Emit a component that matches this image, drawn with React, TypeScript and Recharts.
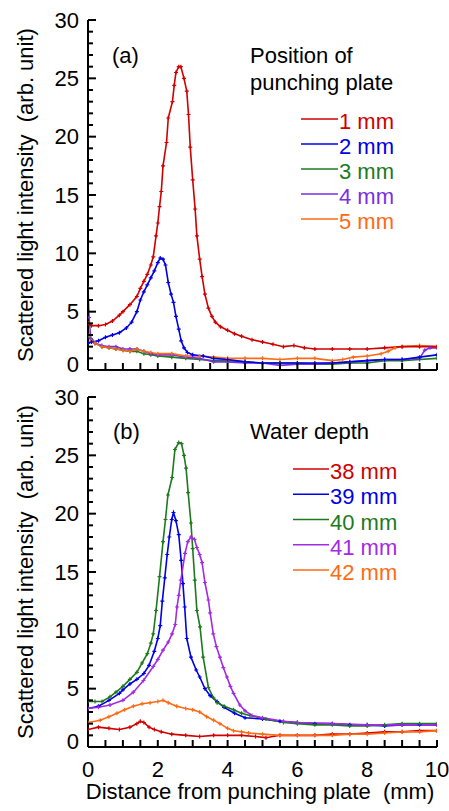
import React from "react";
import { LineChart, Line, XAxis, YAxis } from "recharts";

type P = { x: number; y: number };
const pts = (a: number[][]): P[] => a.map(([x, y]) => ({ x, y }));

// Panel (a): position of punching plate
const a1mm = pts([[0,4.0],[0.1,3.8],[0.3,3.8],[0.5,3.9],[0.7,4.2],[0.9,4.7],[1.0,5.0],[1.2,5.6],[1.4,6.3],[1.5,7.0],[1.6,7.6],[1.7,8.2],[1.8,9.0],[1.87,9.7],[1.95,11.5],[2.0,12.6],[2.05,14.0],[2.1,15.3],[2.15,17.5],[2.25,19.5],[2.3,21.6],[2.42,23.0],[2.47,24.4],[2.52,25.5],[2.6,26.0],[2.66,26.0],[2.75,25.0],[2.83,23.9],[2.88,21.9],[2.93,19.1],[3.0,16.3],[3.07,13.8],[3.12,11.5],[3.2,9.5],[3.27,8.0],[3.35,6.5],[3.45,5.3],[3.55,4.6],[3.65,4.1],[3.8,3.7],[4.0,3.4],[4.2,3.1],[4.4,2.9],[4.7,2.6],[5.0,2.4],[5.3,2.2],[5.6,2.0],[5.9,2.1],[6.2,1.9],[6.5,1.8],[7.0,1.8],[7.5,1.8],[8.0,1.8],[8.5,1.9],[9.0,2.0],[9.5,2.0],[10,2.0]]);
const a2mm = pts([[0,2.3],[0.1,2.4],[0.3,2.5],[0.5,2.8],[0.7,3.0],[0.9,3.2],[1.1,3.6],[1.25,4.1],[1.4,5.0],[1.5,6.0],[1.6,6.7],[1.7,7.3],[1.8,7.9],[1.9,8.5],[2.0,9.2],[2.07,9.6],[2.15,9.5],[2.22,9.0],[2.3,7.5],[2.38,6.5],[2.45,5.8],[2.52,4.6],[2.6,3.5],[2.67,2.5],[2.75,1.9],[2.85,1.5],[3.0,1.3],[3.3,1.2],[3.6,1.0],[4.0,0.9],[4.5,0.7],[5.0,0.6],[5.5,0.6],[6.0,0.6],[6.5,0.6],[7.0,0.6],[7.5,0.7],[8.0,0.8],[8.5,0.9],[9.0,0.9],[9.5,1.1],[10,1.3]]);
const a3mm = pts([[0,2.9],[0.1,2.6],[0.2,2.3],[0.4,2.0],[0.6,1.9],[0.8,1.8],[1.0,1.7],[1.2,1.6],[1.4,1.6],[1.6,1.4],[1.8,1.3],[2.0,1.2],[2.4,1.1],[2.8,1.0],[3.2,0.9],[3.6,0.8],[4.0,0.8],[4.5,0.7],[5.0,0.6],[5.5,0.6],[6.0,0.6],[6.5,0.5],[7.0,0.5],[7.5,0.6],[8.0,0.6],[8.5,0.8],[9.0,0.8],[9.5,0.9],[10,1.0]]);
const a4mm = pts([[0,7.0],[0.03,4.5],[0.08,2.7],[0.2,2.3],[0.4,2.1],[0.6,2.0],[0.8,2.0],[1.0,1.8],[1.2,1.8],[1.4,1.8],[1.6,1.6],[1.8,1.4],[2.0,1.3],[2.4,1.3],[2.8,1.1],[3.2,1.0],[3.6,0.7],[4.0,0.7],[4.5,0.6],[5.0,0.6],[5.5,0.4],[6.0,0.5],[6.5,0.5],[7.0,0.6],[7.5,0.7],[8.0,0.8],[8.5,0.9],[9.0,0.9],[9.5,1.0],[9.65,1.7],[9.8,1.9],[10,1.9]]);
const a5mm = pts([[0,4.0],[0.04,3.0],[0.1,2.5],[0.2,2.3],[0.4,2.0],[0.6,1.9],[0.8,1.8],[1.0,1.7],[1.2,1.6],[1.4,1.8],[1.6,1.6],[1.8,1.5],[2.0,1.4],[2.4,1.4],[2.8,1.2],[3.2,1.2],[3.6,1.1],[4.0,1.0],[4.5,1.0],[5.0,1.0],[5.5,0.9],[6.0,1.0],[6.5,1.0],[7.0,0.8],[7.3,0.9],[7.6,1.1],[8.0,1.2],[8.4,1.4],[8.6,1.6],[8.8,1.9],[9.0,2.0],[9.5,2.1],[10,2.0]]);

// Panel (b): water depth
const b38mm = pts([[0,1.5],[0.3,1.7],[0.6,1.6],[0.9,1.5],[1.2,1.7],[1.4,2.0],[1.5,2.2],[1.6,2.1],[1.75,1.7],[1.9,1.5],[2.1,1.3],[2.4,1.1],[2.8,1.0],[3.2,0.9],[3.6,1.0],[4.0,1.0],[4.4,1.0],[4.8,0.9],[5.1,0.8],[5.5,1.0],[6.0,1.0],[6.5,1.0],[7.0,1.1],[7.5,1.1],[8.0,1.2],[8.5,1.3],[9.0,1.3],[9.5,1.4],[10,1.4]]);
const b39mm = pts([[0,3.3],[0.3,3.5],[0.6,4.0],[0.9,4.6],[1.0,4.9],[1.2,5.4],[1.4,5.8],[1.6,6.3],[1.75,7.0],[1.9,8.2],[2.0,9.3],[2.07,10.4],[2.13,12.5],[2.2,14.5],[2.27,16.5],[2.33,18.0],[2.4,19.5],[2.45,20.1],[2.52,19.4],[2.6,18.2],[2.67,16.0],[2.72,14.0],[2.77,12.0],[2.83,9.3],[2.95,7.7],[3.1,6.6],[3.2,6.0],[3.35,5.0],[3.5,4.4],[3.7,3.9],[3.9,3.4],[4.2,2.9],[4.5,2.5],[5.0,2.4],[5.5,2.2],[6.0,2.1],[6.5,2.0],[7.0,2.0],[7.5,1.9],[8.0,1.9],[8.5,1.8],[9.0,1.9],[9.5,1.9],[10,1.9]]);
const b40mm = pts([[0,3.9],[0.2,3.9],[0.4,3.9],[0.63,4.3],[0.8,4.7],[1.0,5.2],[1.2,5.8],[1.4,6.4],[1.55,7.2],[1.7,8.0],[1.8,8.9],[1.87,9.7],[1.95,11.7],[2.05,14.6],[2.15,17.6],[2.22,19.5],[2.29,21.6],[2.41,23.1],[2.49,25.5],[2.6,26.1],[2.68,26.0],[2.75,25.0],[2.81,23.9],[2.87,21.8],[2.95,19.2],[3.0,17.0],[3.06,14.3],[3.12,11.7],[3.21,10.3],[3.3,7.7],[3.45,5.1],[3.6,4.2],[3.7,3.8],[3.9,3.5],[4.17,3.2],[4.4,2.9],[4.64,2.7],[5.1,2.4],[5.6,2.1],[6.0,2.0],[6.5,1.9],[7.0,1.9],[7.5,1.8],[8.0,1.8],[8.5,1.9],[9.0,2.0],[9.5,2.0],[10,2.0]]);
const b41mm = pts([[0,3.3],[0.3,3.4],[0.63,3.6],[1.0,4.0],[1.3,4.7],[1.59,5.7],[1.87,6.9],[2.0,7.5],[2.15,8.3],[2.3,9.0],[2.41,9.7],[2.5,10.5],[2.55,12.0],[2.6,13.0],[2.66,14.3],[2.78,16.6],[2.86,17.6],[2.95,18.0],[3.05,17.8],[3.12,17.1],[3.2,16.5],[3.27,15.8],[3.35,14.1],[3.45,12.6],[3.5,11.5],[3.59,9.7],[3.68,8.6],[3.78,7.7],[3.88,6.8],[3.98,6.0],[4.08,5.2],[4.17,4.6],[4.35,3.6],[4.5,3.1],[4.7,2.7],[5.0,2.5],[5.6,2.2],[6.0,2.1],[7.0,2.0],[8.0,1.9],[9.0,1.9],[10,1.9]]);
const b42mm = pts([[0,2.1],[0.35,2.3],[0.6,2.6],[0.83,2.9],[1.05,3.2],[1.3,3.5],[1.55,3.7],[1.78,3.8],[2.0,3.9],[2.15,4.0],[2.3,3.8],[2.54,3.5],[2.8,3.3],[3.0,3.2],[3.2,3.0],[3.4,2.6],[3.6,2.3],[3.78,2.0],[4.0,1.6],[4.17,1.4],[4.4,1.3],[4.6,1.2],[5.0,1.1],[5.5,1.0],[6.0,1.0],[6.5,1.0],[7.0,1.0],[7.5,1.1],[8.0,1.1],[8.5,1.2],[9.0,1.3],[9.5,1.3],[10,1.4]]);

const seriesA = [
  { name: "1 mm", color: "#d00000", data: a1mm },
  { name: "2 mm", color: "#0000e6", data: a2mm },
  { name: "3 mm", color: "#1e7a1e", data: a3mm },
  { name: "4 mm", color: "#7b2fe3", data: a4mm },
  { name: "5 mm", color: "#ff6a14", data: a5mm },
];
const seriesB = [
  { name: "38 mm", color: "#d00000", data: b38mm },
  { name: "39 mm", color: "#0000e6", data: b39mm },
  { name: "40 mm", color: "#1e7a1e", data: b40mm },
  { name: "41 mm", color: "#a22be3", data: b41mm },
  { name: "42 mm", color: "#ff6a14", data: b42mm },
];
const orderA = [2, 3, 4, 1, 0];
const orderB = [0, 4, 1, 2, 3];

const X_TICKS = [0,0.5,1,1.5,2,2.5,3,3.5,4,4.5,5,5.5,6,6.5,7,7.5,8,8.5,9,9.5,10];
const X_LABELS = [0, 2, 4, 6, 8, 10];
const Y_TICKS = Array.from({ length: 31 }, (_, i) => i);
const Y_LABELS = [0, 5, 10, 15, 20, 25, 30];

const FONT = "'Liberation Sans', Arial, sans-serif";
const AX = "#000";
const TW = 2;

const LeftTick = (p: any) => {
  const v = p.payload.value;
  const major = Y_LABELS.includes(v);
  return (
    <g>
      <line x1={p.x} x2={p.x + (major ? 8 : 5)} y1={p.y} y2={p.y} stroke={AX} strokeWidth={TW} />
      {major && (
        <text x={p.x - 9} y={p.y + (v === 0 ? 2 : 7.5)} textAnchor="end" fontSize={22} fontFamily={FONT} fill="#000">
          {v}
        </text>
      )}
    </g>
  );
};
const RightTick = (p: any) => {
  const v = p.payload.value;
  const major = Y_LABELS.includes(v);
  return <line x1={p.x} x2={p.x - (major ? 8 : 5)} y1={p.y} y2={p.y} stroke={AX} strokeWidth={TW} />;
};
const TopTick = (p: any) => <line x1={p.x} x2={p.x} y1={p.y} y2={p.y + 7} stroke={AX} strokeWidth={TW} />;
const makeBottomTick = (labels: boolean) => (p: any) => {
  const v = p.payload.value;
  return (
    <g>
      <line x1={p.x} x2={p.x} y1={p.y} y2={p.y - 7} stroke={AX} strokeWidth={TW} />
      {labels && X_LABELS.includes(v) && (
        <text x={p.x} y={p.y + 30} textAnchor="middle" fontSize={22} fontFamily={FONT} fill="#000">
          {v}
        </text>
      )}
    </g>
  );
};

const makeDot = (color: string) => (p: any) => {
  const { cx, cy, index } = p;
  if (cx == null || cy == null) return <g key={index} />;
  return <path key={index} d={`M${cx - 2},${cy}h4M${cx},${cy - 2}v4`} stroke={color} strokeWidth={1.2} fill="none" />;
};

function Panel({ series, order, height, bottomLabels, xAxisHeight }: any) {
  return (
    <LineChart width={449} height={height} margin={{ top: 20, right: 12, bottom: 0, left: 28 }}>
      <XAxis xAxisId="b" dataKey="x" type="number" domain={[0, 10]} ticks={X_TICKS} allowDataOverflow
        height={xAxisHeight} tickSize={0} tickMargin={0} axisLine={{ stroke: AX, strokeWidth: 2 }} tickLine={false}
        tick={makeBottomTick(bottomLabels)} interval={0} />
      <XAxis xAxisId="t" orientation="top" dataKey="x" type="number" domain={[0, 10]} ticks={X_TICKS} allowDataOverflow
        height={0} tickSize={0} tickMargin={0} axisLine={{ stroke: AX, strokeWidth: 2 }} tickLine={false}
        tick={TopTick} interval={0} />
      <YAxis yAxisId="l" type="number" domain={[0, 30]} ticks={Y_TICKS} allowDataOverflow width={60}
        tickSize={0} tickMargin={0} axisLine={{ stroke: AX, strokeWidth: 2 }} tickLine={false} tick={LeftTick} interval={0} />
      <YAxis yAxisId="r" orientation="right" type="number" domain={[0, 30]} ticks={Y_TICKS} allowDataOverflow width={0}
        tickSize={0} tickMargin={0} axisLine={{ stroke: AX, strokeWidth: 2 }} tickLine={false} tick={RightTick} interval={0} />
      <Line xAxisId="t" yAxisId="r" data={series[0].data} dataKey="y" stroke="none" strokeWidth={0} dot={false}
        activeDot={false} legendType="none" isAnimationActive={false} />
      {order.map((i: number) => {
        const s = series[i];
        return (
          <Line key={s.name} xAxisId="b" yAxisId="l" data={s.data} dataKey="y" name={s.name} type="linear"
            stroke={s.color} strokeWidth={1.6} dot={makeDot(s.color)} activeDot={false} isAnimationActive={false} />
        );
      })}
    </LineChart>
  );
}

const txt = { fontFamily: FONT, fontSize: 22, fill: "#000" } as const;

function LegendBlock({ series, lineX1, lineX2, textX, firstBaseline, step }: any) {
  return (
    <g>
      {series.map((s: any, i: number) => {
        const b = firstBaseline + i * step;
        return (
          <g key={s.name}>
            <line x1={lineX1} x2={lineX2} y1={b - 10} y2={b - 10} stroke={s.color} strokeWidth={1.6} />
            <text x={textX} y={b} {...txt} fill={s.color}>{s.name}</text>
          </g>
        );
      })}
    </g>
  );
}

export default function App() {
  return (
    <div style={{ position: "absolute", left: 0, top: 0, width: 449, height: 811 }}>
      <svg width={449} height={811} style={{ position: "absolute", left: 0, top: 0, pointerEvents: "none" }}>
        <text x={33} y={195} transform="rotate(-90 33 195)" textAnchor="middle" {...txt}>
          Scattered light intensity{"\u00a0\u00a0"}(arb. unit)
        </text>
        <text x={33} y={572} transform="rotate(-90 33 572)" textAnchor="middle" {...txt}>
          Scattered light intensity{"\u00a0\u00a0"}(arb. unit)
        </text>
        <text x={260} y={799} textAnchor="middle" {...txt}>
          Distance from punching plate{"\u00a0\u00a0"}(mm)
        </text>
        <text x={112} y={63} {...txt}>(a)</text>
        <text x={250} y={63} {...txt}>Position of</text>
        <text x={250} y={90} {...txt}>punching plate</text>
        <LegendBlock series={seriesA} lineX1={301} lineX2={338} textX={339} firstBaseline={129} step={25} />
        <text x={113} y={439} {...txt}>(b)</text>
        <text x={250} y={439} {...txt}>Water depth</text>
        <LegendBlock series={seriesB} lineX1={293} lineX2={329} textX={330} firstBaseline={479} step={25.25} />
      </svg>
      <div style={{ position: "absolute", left: 0, top: 0 }}>
        <Panel series={seriesA} order={orderA} height={380} bottomLabels={false} xAxisHeight={10} />
      </div>
      <div style={{ position: "absolute", left: 0, top: 377 }}>
        <Panel series={seriesB} order={orderB} height={434} bottomLabels={true} xAxisHeight={64} />
      </div>
    </div>
  );
}
